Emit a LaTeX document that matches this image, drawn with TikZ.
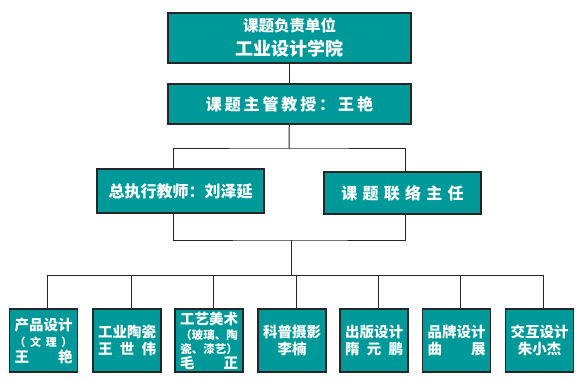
\documentclass[tikz,border=0pt]{standalone}
\usepackage{fontspec}
\setmainfont{Noto Sans CJK SC}
\definecolor{orgteal}{RGB}{0,153,153}
\newcommand\tracked[1]{\addfontfeatures{LetterSpace=#1}}
\begin{document}
\begin{tikzpicture}[x=1pt,y=-1pt,
    unit/.style={draw=black!85, line width=1.2pt, fill=orgteal, text=white,
      inner sep=0pt, align=center},
    headbox/.style={unit, minimum width=243pt, minimum height=40pt,
      font=\bfseries\fontsize{16}{18}\selectfont},
    groupbox/.style={unit, minimum width=68pt, minimum height=63pt,
      text width=58pt, font=\bfseries\fontsize{14.5}{17.5}\selectfont},
    link/.style={draw=black!85, line width=1pt}]
  \useasboundingbox (0,0) rectangle (586,382);
  % upper levels
  \node[headbox, minimum height=50pt, font=\bfseries\fontsize{18}{24}\selectfont]
    (school) at (289.5,38) {{\fontsize{15.5}{18}\selectfont 课题负责单位}\\工业设计学院};
  \node[headbox] (prof) at (289.5,104) {\tracked{18}课题主管教授：王艳};
  \node[headbox, minimum width=167pt, minimum height=44pt] (lead) at (180.5,191)
    {总执行教师：刘泽延};
  \node[headbox, minimum width=157pt, minimum height=42pt] (liaison) at (402.5,193)
    {\tracked{33}课题联络主任};
  % research groups
  \node[groupbox, font=\bfseries\fontsize{14.5}{16}\selectfont] (g1) at (43.5,340.5)
    {产品设计\\{\fontsize{11}{13}\selectfont （\hfill 文\hfill 理\hfill ）}\\王\hfill 艳};
  \node[groupbox] (g2) at (127,340.5) {工业陶瓷\\王\hfill 世\hfill 伟};
  \node[groupbox, font=\bfseries\fontsize{14.5}{14}\selectfont] (g3) at (209,340.5)
    {工艺美术\\[2pt]{\fontsize{11.5}{13}\selectfont （玻璃、陶\\瓷、漆艺）}\\[1pt]毛\hfill 正};
  \node[groupbox] (g4) at (292,340.5) {科普摄影\\李楠};
  \node[groupbox] (g5) at (374,340.5) {出版设计\\隋\hfill 元\hfill 鹏};
  \node[groupbox] (g6) at (456.5,340.5) {品牌设计\\曲\hfill 展};
  \node[groupbox] (g7) at (539.5,340.5) {交互设计\\朱小杰};
  % connectors
  \coordinate (split) at (289,149);
  \coordinate (merge) at (291,240);
  \coordinate (bus) at (291,275);
  \draw[link] (school) -- (prof);
  \draw[link] (prof) -- (split);
  \draw[link] ([xshift=-7pt]lead.north) |- (split) -| ([xshift=3pt]liaison.north);
  \draw[link] ([xshift=-7pt]lead.south) |- (merge) -| ([xshift=3pt]liaison.south);
  \draw[link] (merge) -- (bus);
  \foreach \n in {1,...,7}
    \draw[link] (bus) -| ([xshift=4pt]g\n.north);
\end{tikzpicture}
\end{document}
